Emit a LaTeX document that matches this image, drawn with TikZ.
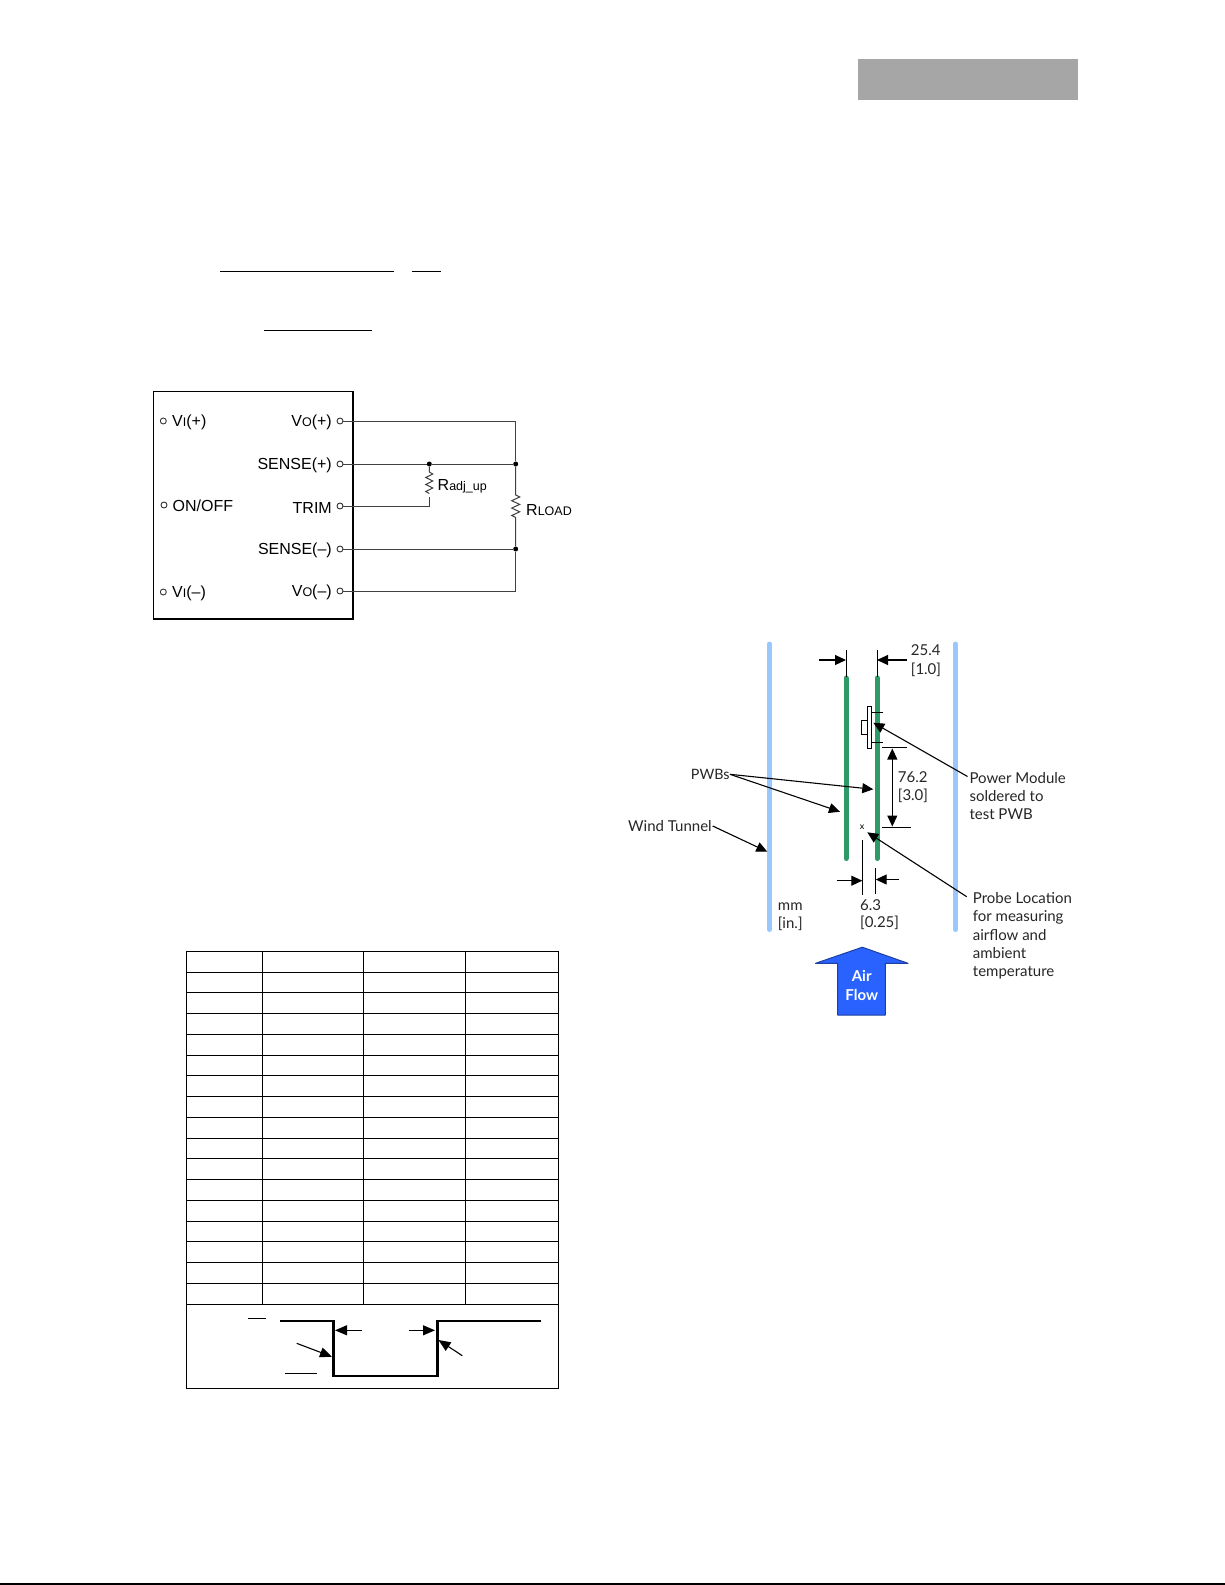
\documentclass[tikz,border=0pt]{standalone}
\usepackage{fontspec}
\setmainfont{Liberation Sans}
\newfontfamily\figfont{Lato}
\usetikzlibrary{arrows.meta}
\definecolor{tunnelblue}{HTML}{99C8FF}
\definecolor{boardgreen}{HTML}{2E9A68}
\definecolor{airblue}{HTML}{2962FF}
\definecolor{airedge}{HTML}{1F3FA0}
\definecolor{bargray}{HTML}{A6A6A6}
\newcommand{\smcap}[1]{{\fontsize{12.5}{12.5}\selectfont #1}}
\tikzset{
  wire/.style={line width=1pt,draw=black!75},
  termin/.style={circle,draw=black!80,line width=0.9pt,fill=white,minimum size=6pt,inner sep=0pt},
  junction/.style={circle,fill=black,minimum size=5pt,inner sep=0pt},
  cktlabel/.style={font=\fontsize{16}{16}\selectfont,inner sep=0pt},
  figlabel/.style={font=\figfont\fontsize{15}{18.3}\selectfont,inner sep=0pt,anchor=west,align=left,text=black!85},
  dimline/.style={line width=1pt,black},
  dimarrow/.style={line width=1.1pt,black,-{Triangle[length=11pt,width=10pt]}},
  dimboth/.style={line width=1.1pt,black,{Triangle[length=11pt,width=10pt]}-{Triangle[length=11pt,width=10pt]}},
  tablerule/.style={line width=1pt,black},
  pulse/.style={line width=2.6pt,black,line join=miter},
  pulsearrow/.style={line width=1.1pt,black,-{Triangle[length=12pt,width=10pt]}},
  tunnelbar/.style={line width=5pt,tunnelblue,line cap=round},
  boardbar/.style={line width=5pt,boardgreen,line cap=round},
}
\begin{document}
\begin{tikzpicture}[x=1pt,y=-1pt]
\useasboundingbox (0,0) rectangle (1225,1585);
% header bar and foot rule
\node[fill=bargray,inner sep=0pt,minimum width=220pt,minimum height=41pt,anchor=north west] (hdr) at (858,59) {};
\coordinate (footL) at (0,1584); \coordinate (footR) at (1225,1584);
\draw[line width=1.3pt] (footL) -- (footR);
% formula rules
\draw[line width=1pt] (220,271.3) -- (394.3,271.3);
\draw[line width=1pt] (411.7,271.3) -- (440.7,271.3);
\draw[line width=1pt] (264,330) -- (371.7,330);
% circuit
\node[draw=black,line width=1.9pt,minimum width=199.6pt,minimum height=227.3pt,inner sep=0pt,outer sep=0pt,anchor=north west] (module) at (153.5,391.5) {};
\node[termin] (vip) at (163.3,421) {};
\node[termin] (onoff) at (164,505) {};
\node[termin] (vim) at (163.3,592) {};
\node[termin] (vop) at (340,421) {};
\node[termin] (sp) at (340,464) {};
\node[termin] (trim) at (340,506) {};
\node[termin] (sm) at (340,549) {};
\node[termin] (vom) at (340,591) {};
\node[cktlabel,anchor=west] (lvip) at (172,422.5) {V\smcap{I}(+)};
\node[cktlabel,anchor=west] (lonoff) at (172.5,506) {ON/OFF};
\node[cktlabel,anchor=west] (lvim) at (172,593) {V\smcap{I}(--)};
\node[cktlabel,anchor=east] (lvop) at (332,422.5) {V\smcap{O}(+)};
\node[cktlabel,anchor=east] (lsp) at (332,465) {SENSE(+)};
\node[cktlabel,anchor=east] (ltrim) at (332,507.5) {TRIM};
\node[cktlabel,anchor=east] (lsm) at (332,550) {SENSE(--)};
\node[cktlabel,anchor=east] (lvom) at (332,592.5) {V\smcap{O}(--)};
\node[junction] (j1) at (429.3,464) {};
\node[junction] (j2) at (515.7,464) {};
\node[junction] (j3) at (515.7,549) {};
\coordinate (c1) at (515.7,421);
\coordinate (c2) at (515.7,591);
\coordinate (c3) at (429.3,506);
\coordinate (rt) at (429.3,472);
\coordinate (lt) at (515.7,495);
\draw[wire] (vop) -- (c1) -- (j2);
\draw[wire] (sp) -- (j1) -- (j2);
\draw[wire] (sm) -- (j3);
\draw[wire] (vom) -- (c2) -- (j3);
\draw[wire] (trim) -- (c3) -- ++(0,-9);
\draw[wire] (j1) -- (rt) -- ++(3.5,2) -- ++(-7,3.5) -- ++(7,3.5) -- ++(-7,3.5) -- ++(7,3.5) -- ++(-7,3.5) -- ++(3.5,2) -- ++(0,0);
\draw[wire] (j2) -- (lt) -- ++(4,2) -- ++(-8,3.7) -- ++(8,3.7) -- ++(-8,3.7) -- ++(8,3.7) -- ++(-8,3.7) -- ++(4,2) -- (j3);
\node[cktlabel,anchor=west] (lradj) at (437.5,486) {R\smcap{adj\_up}};
\node[cktlabel,anchor=west] (lrload) at (526,510) {R\smcap{LOAD}};
% table
\foreach \k in {0,...,17} { \draw[tablerule] (186.3,951.3+20.76*\k) -- (558.3,951.3+20.76*\k); }
\foreach \cx in {262.7,363.3,465.3} { \draw[tablerule] (\cx,951.3) -- (\cx,1304.3); }
\draw[tablerule] (186.3,951.3) rectangle (558.3,1388);
% pulse
\coordinate (p0) at (280,1321); \coordinate (p1) at (333.6,1321); \coordinate (p2) at (333.6,1376);
\coordinate (p3) at (437.2,1376); \coordinate (p4) at (437.2,1321); \coordinate (p5) at (540.7,1321);
\draw[pulse] (p0) -- (p1) -- (p2) -- (p3) -- (p4) -- (p5);
\draw[line width=1pt] (248.3,1318.7) -- (266,1318.7);
\draw[line width=1pt] (285,1373.7) -- (316.7,1373.7);
\draw[pulsearrow] (361.7,1330.3) -- (335,1330.3);
\draw[pulsearrow] (409.3,1330.3) -- (435,1330.3);
\draw[pulsearrow] (296.7,1343.3) -- (332,1356.7);
\draw[pulsearrow] (462.3,1355.7) -- (438.5,1340);
% wind tunnel
\coordinate (tl1) at (769.3,644); \coordinate (tl2) at (769.3,929.5);
\coordinate (tr1) at (955.3,644); \coordinate (tr2) at (955.3,929.5);
\draw[tunnelbar] (tl1) -- (tl2);
\draw[tunnelbar] (tr1) -- (tr2);
\coordinate (b1t) at (846,678); \coordinate (b1b) at (846,858.5);
\coordinate (b2t) at (877.2,678); \coordinate (b2b) at (877.2,858.5);
\draw[boardbar] (b1t) -- (b1b);
\draw[boardbar] (b2t) -- (b2b);
\draw[dimline] (846,650) -- (846,677);
\draw[dimline] (877,650) -- (877,677);
\draw[dimarrow] (819,660) -- (846,660);
\draw[dimarrow] (906.7,660) -- (877,660);
\node[figlabel] (d254) at (910.7,650.5) {25.4};
\node[figlabel] (d10) at (910.7,670) {[1.0]};
% power module
\draw[line width=1pt] (871.7,712.7) -- (882.7,712.7);
\draw[line width=1pt] (871.7,742.3) -- (882.7,742.3);
\draw[line width=1pt,fill=white] (867.7,706.7) rectangle (871.7,748.3);
\draw[line width=1pt,fill=white] (861.7,720.7) rectangle (867.7,734.3);
\node[figlabel] (pm) at (969.3,796) {Power Module\\soldered to\\test PWB};
\draw[dimarrow] (967.5,776.5) -- (873.3,722.7);
% 76.2 dimension
\draw[dimline] (882.3,747.7) -- (907.3,747.7);
\draw[dimline] (882.3,827.3) -- (911,827.3);
\draw[dimboth] (892.3,748.5) -- (892.3,826.5);
\node[figlabel] (d762) at (897.7,777.5) {76.2};
\node[figlabel] (d30) at (897.7,796) {[3.0]};
% PWBs
\node[figlabel,font=\figfont\fontsize{14.3}{18}\selectfont] (pwb) at (690.7,774) {PWBs};
\coordinate (pwbo) at (730,774.3);
\draw[dimarrow] (pwbo) -- (873.3,789.3);
\draw[dimarrow] (pwbo) -- (840,811.7);
\node[figlabel] (wt) at (628,826.5) {Wind Tunnel};
\draw[dimarrow] (712.7,826) -- (767.3,851.7);
% probe
\node[inner sep=0pt,font=\figfont\fontsize{9}{9}\selectfont] (px) at (862,827) {x};
\node[figlabel] (probe) at (972.7,936) {Probe Location\\for measuring\\airflow and\\ambient\\temperature};
\draw[dimarrow] (966.7,896.7) -- (867.3,832.3);
\draw[dimline] (862.3,840) -- (862.3,895);
\draw[dimline] (875.7,868.3) -- (875.7,894);
\draw[dimarrow] (837.3,880.7) -- (862.3,880.7);
\draw[dimarrow] (898.7,879.5) -- (875.7,879.5);
\node[figlabel] (d63) at (860,905) {6.3};
\node[figlabel] (d25) at (860,923.2) {[0.25]};
\node[figlabel] (mm) at (777.7,906.5) {mm};
\node[figlabel] (inch) at (777.7,923.5) {[in.]};
% air flow arrow
\draw[line width=1pt,line join=round,draw=airedge,fill=airblue] (862.3,947.2) -- (908,963.3) -- (885.3,963.3) -- (885.3,1015) -- (837.7,1015) -- (837.7,963.3) -- (815.5,963.3) -- cycle;
\node[inner sep=0pt,text=white,font=\figfont\bfseries\fontsize{15}{19.4}\selectfont,align=center] (air) at (861.7,985.5) {Air\\Flow};
\end{tikzpicture}
\end{document}
